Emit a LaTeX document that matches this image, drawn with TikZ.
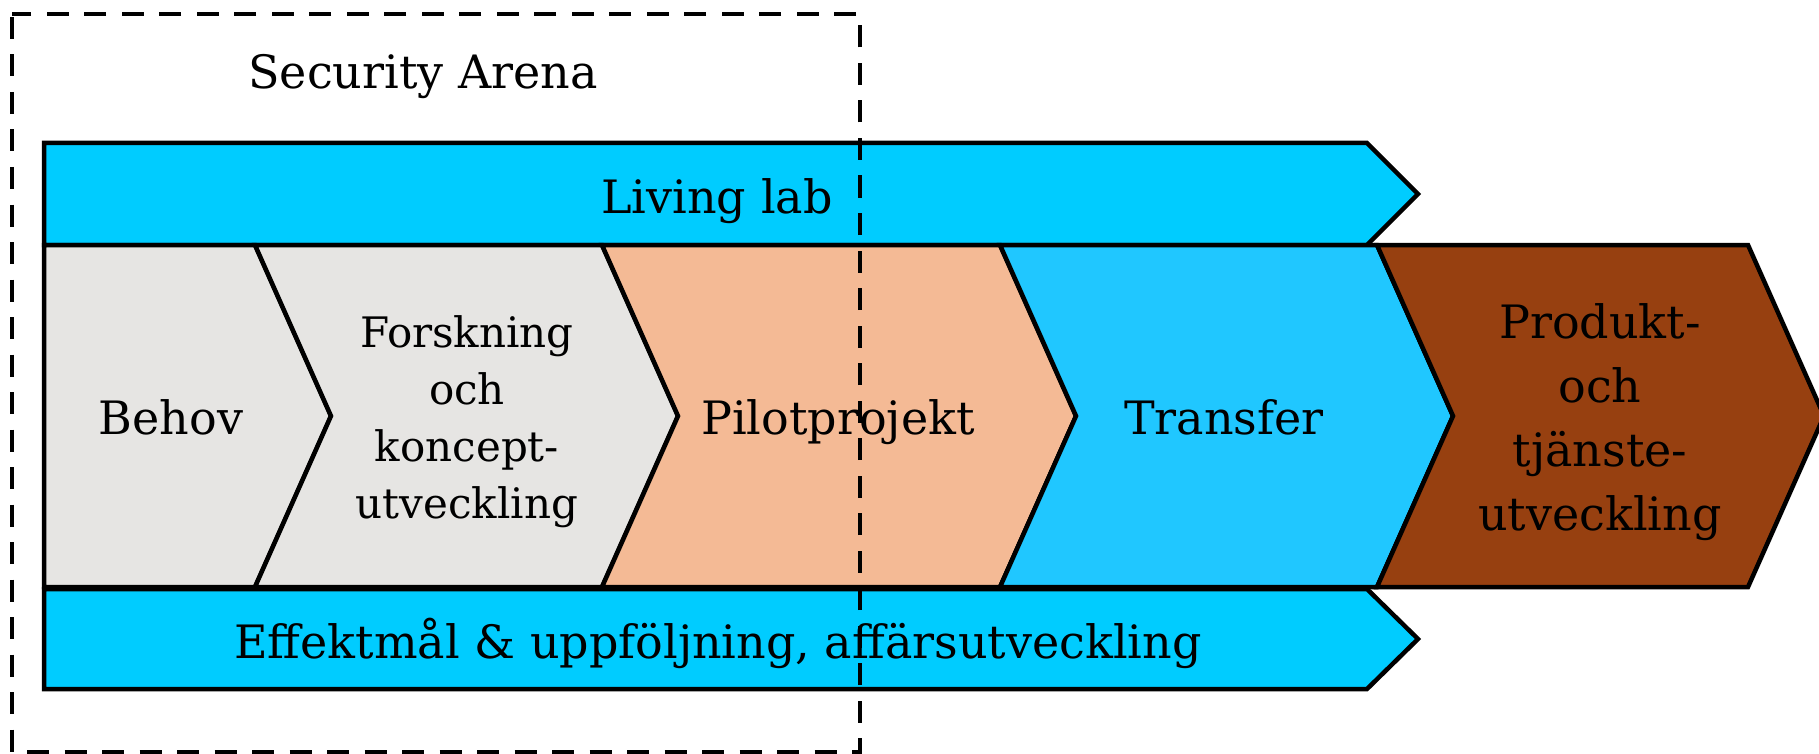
\documentclass[tikz,border=0pt]{standalone}
\usepackage{fontspec}
\setmainfont{DejaVu Serif}
\definecolor{barblue}{HTML}{00CCFF}
\definecolor{transblue}{HTML}{20C7FF}
\definecolor{lightgrey}{HTML}{E6E5E3}
\definecolor{peach}{HTML}{F4BA95}
\definecolor{brown}{HTML}{974010}
\begin{document}
\begin{tikzpicture}[x=1pt,y=-1pt,
  shapeline/.style={draw=black,line width=4.5pt,line join=miter},
  lbl/.style={font=\fontsize{46}{64}\selectfont,align=center,inner sep=0pt},
  smalllbl/.style={font=\fontsize{42}{57}\selectfont,align=center,inner sep=0pt},
  arenabox/.style={draw=black,line width=4.2pt,dash pattern=on 22pt off 15.5pt,dash phase=-3pt}]
\useasboundingbox (0,0) rectangle (1819,754);
\clip (0,0) rectangle (1819,754);
% bars
\draw[shapeline,fill=barblue] (44,143) -- (1367,143) -- (1418,194) -- (1367,245) -- (44,245) -- cycle;
\draw[shapeline,fill=barblue] (44,589) -- (1367,589) -- (1418,639) -- (1367,689) -- (44,689) -- cycle;
% chevrons
\draw[shapeline,fill=lightgrey] (44,245) -- (255,245) -- (331,416) -- (255,587) -- (44,587) -- cycle;
\draw[shapeline,fill=lightgrey] (255,245) -- (602,245) -- (678,416) -- (602,587) -- (255,587) -- (331,416) -- cycle;
\draw[shapeline,fill=peach] (602,245) -- (1000,245) -- (1076,416) -- (1000,587) -- (602,587) -- (678,416) -- cycle;
\draw[shapeline,fill=transblue] (1000,245) -- (1377,245) -- (1453,416) -- (1377,587) -- (1000,587) -- (1076,416) -- cycle;
\draw[shapeline,fill=brown] (1377,245) -- (1748,245) -- (1824,416) -- (1748,587) -- (1377,587) -- (1453,416) -- cycle;
% labels
\node[lbl,anchor=base] (arena) at (423,89) {Security Arena};
\node[lbl,anchor=base] (living) at (717,213) {Living lab};
\node[lbl,anchor=base] (effekt) at (718,658) {Effektmål \& uppföljning, affärsutveckling};
\node[lbl,anchor=base] (behov) at (171,434) {Behov};
\node[smalllbl] (forsk) at (467,422) {Forskning\\och\\koncept-\\utveckling};
\node[lbl,anchor=base] (pilot) at (838,434) {Pilotprojekt};
\node[lbl,anchor=base] (transfer) at (1224,434) {Transfer};
\node[lbl] (produkt) at (1600,422) {Produkt-\\och\\tjänste-\\utveckling};
% dashed Security Arena frame
\draw[arenabox] (12,14) rectangle (860,752);
\end{tikzpicture}
\end{document}
